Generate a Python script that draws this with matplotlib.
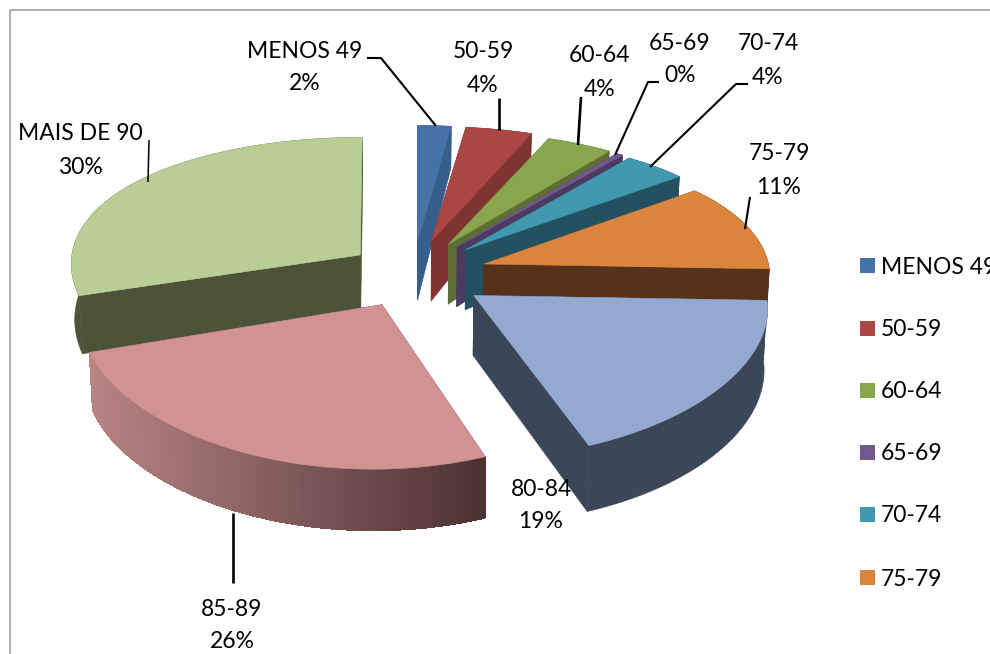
import numpy as np
from matplotlib import pyplot as plt
from matplotlib.patches import Polygon, Rectangle

plt.rcParams['font.family'] = ['Lato', 'DejaVu Sans']

# data
categories = ['MENOS 49', '50-59', '60-64', '65-69', '70-74', '75-79', '80-84', '85-89', 'MAIS DE 90']
values = [2.0, 4, 4, 0.4, 3.9, 11, 19, 26, 30]
percent_labels = ['2%', '4%', '4%', '0%', '4%', '11%', '19%', '26%', '30%']
legend_shown = ['MENOS 49', '50-59', '60-64', '65-69', '70-74', '75-79']

# style
top_colors = ['#4572A7', '#AA4643', '#89A54E', '#71588F', '#4198AF', '#DB843D', '#93A9CF', '#D19392', '#B9CD96']
side_colors = ['#385F8B', '#7F3432', '#5E6F36', '#4C3B60', '#245160', '#57321A', '#3B4658', '#6E4A4A', '#4D5339']

# projection of the tilted pie
CX, CY = 413, 274
EXPLODE_X, EXPLODE_Y = 74, 34
RX, RY = 290, 134

# small per slice corrections of the projection, in pixels
apex_nudge = [(0, 0), (0, 0), (0, 0), (0, 0), (1, 0), (1, 1), (0, 2), (1, 0), (7, 1)]
rim_nudge = [(0, 1), (1, 1), (1, 3), (0, 3), (-2, 3), (-5, 3), (3, 3), (-9, 5), (2, -2)]
depth_nudge = [0, 0, 0, 0, 0, 0, 0, -5, -5]


def rim(theta, apex):
    """ point on the top rim for the clockwise angle theta (radians from 12 o'clock) """
    u, v = np.sin(theta), -np.cos(theta)
    return apex[0] + RX * u / (1 - 0.08 * v), apex[1] + RY * v / (1 - 0.16 * v)


def drop(x, y, v, extra):
    """ push a top point down to the bottom of the pie """
    return CX + (x - CX) * 0.99, y + 60 + 12 * v - 6 * v ** 2 + extra


def wall_quad(x0, y0, v0, x1, y1, v1, extra):
    bx0, by0 = drop(x0, y0, v0, extra)
    bx1, by1 = drop(x1, y1, v1, extra)
    return [(x0, y0), (x1, y1), (bx1, by1), (bx0, by0)]


fig = plt.figure(figsize=(9.9, 6.54), dpi=100)
ax = fig.add_axes([0, 0, 1, 1])
ax.set_xlim(0, 990)
ax.set_ylim(654, 0)
ax.axis('off')

edges = np.cumsum([0] + values) / np.sum(values) * 2 * np.pi
mids = (edges[:-1] + edges[1:]) / 2

# back slices first
for i in np.argsort(-np.cos(mids)):
    apex = (CX + EXPLODE_X * np.sin(mids[i]) + apex_nudge[i][0], CY - EXPLODE_Y * np.cos(mids[i]) + apex_nudge[i][1])
    thetas = np.linspace(edges[i], edges[i + 1], max(int(np.degrees(edges[i + 1] - edges[i])) * 2, 4))
    xs, ys = rim(thetas, apex)
    xs, ys = xs + rim_nudge[i][0], ys + rim_nudge[i][1]
    vs = -np.cos(thetas)
    extra = depth_nudge[i]

    # cut faces
    for k in (0, -1):
        quad = wall_quad(apex[0], apex[1], 0, xs[k], ys[k], vs[k], extra)
        ax.add_patch(Polygon(quad, fc=side_colors[i], ec=side_colors[i], lw=0.4))

    # outer wall, the 85-89 one fades from left to right
    if categories[i] == '85-89':
        for k in range(len(thetas) - 1):
            t = np.clip((xs[k] - 90) / 400, 0, 1)
            c0, c1 = np.array([184, 132, 132]), np.array([74, 48, 48])
            color = tuple((c0 + (c1 - c0) * t) / 255)
            quad = wall_quad(xs[k], ys[k], vs[k], xs[k + 1], ys[k + 1], vs[k + 1], extra)
            ax.add_patch(Polygon(quad, fc=color, ec=color, lw=0.8, antialiased=False))
    else:
        bx, by = drop(xs, ys, vs, extra)
        wall = list(zip(xs, ys)) + list(zip(bx[::-1], by[::-1]))
        ax.add_patch(Polygon(wall, fc=side_colors[i], ec=side_colors[i], lw=0.4))

    top = [apex] + list(zip(xs, ys))
    ax.add_patch(Polygon(top, fc=top_colors[i], ec=top_colors[i], lw=0.4))

# leader lines, width in points
leaders = [
    ([(367, 58), (381, 58), (436, 126)], 1.5),
    ([(499, 98), (499, 130)], 1.9),
    ([(581, 97), (578, 145)], 1.9),
    ([(659, 82), (648, 82), (615, 155)], 1.5),
    ([(748, 84), (736, 84), (650, 167)], 1.5),
    ([(750, 197), (745, 229)], 1.5),
    ([(233, 513), (233, 583)], 1.9),
    ([(149, 140), (148, 182)], 1.1),
]
for pts, width in leaders:
    px, py = zip(*pts)
    ax.plot(px, py, color='black', lw=width, solid_capstyle='butt')

# data labels
label_x = [305, 483, 600, 680, 768, 779, 541, 232, 80]
label_y = [51, 52, 56, 43, 44, 154, 489, 609, 134]
for name, pct, x, y in zip(categories, percent_labels, label_x, label_y):
    ax.text(x, y, name, fontsize=16.5, ha='center', va='center', color='black')
    ax.text(x, y + 33, pct, fontsize=16.5, ha='center', va='center', color='black')

# legend, runs off the right edge like the original
legend_y = [265, 328, 390, 452, 514, 577]
for name, y in zip(legend_shown, legend_y):
    ax.add_patch(Rectangle((860, y - 7.5), 15, 15, fc=top_colors[categories.index(name)], ec='none'))
    ax.text(881, y + 2, name, fontsize=16.5, ha='left', va='center', color='black')

# chart frame
ax.plot([9.5, 9.5, 990], [654, 9.5, 9.5], color='#A0A0A0', lw=1.2)

plt.savefig('out.png', dpi=100)
